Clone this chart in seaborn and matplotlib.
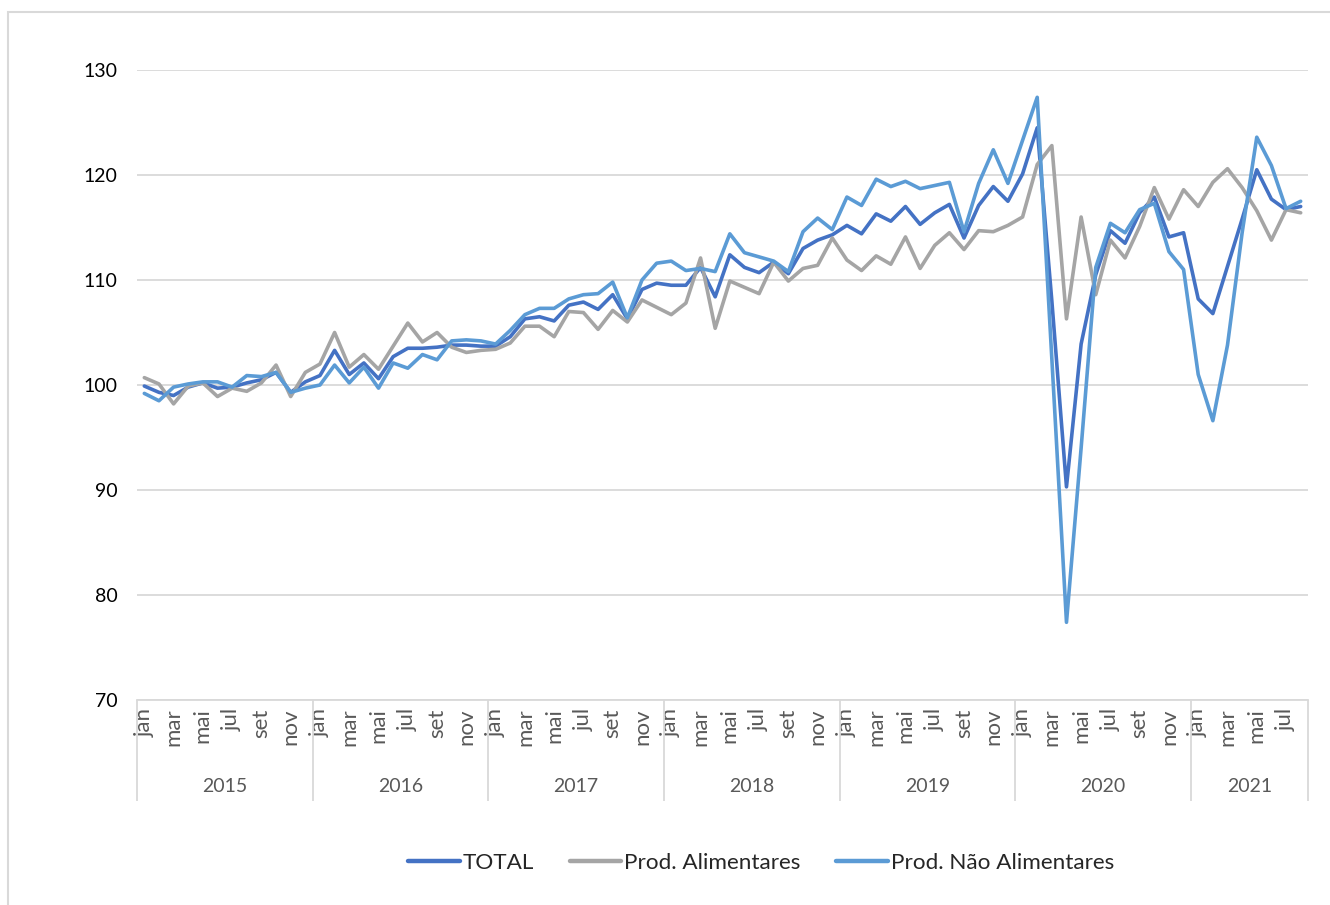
import numpy as np
import pandas as pd
import matplotlib
matplotlib.use("Agg")
import matplotlib.pyplot as plt
import matplotlib.transforms as mtransforms
from matplotlib.patches import Rectangle
import seaborn as sns

# ---------------- data ----------------
years = ["2015", "2016", "2017", "2018", "2019", "2020", "2021"]
month_labels = ["jan", "mar", "mai", "jul", "set", "nov"]
series_names = ["TOTAL", "Prod. Alimentares", "Prod. Não Alimentares"]

total = [
    99.9, 99.3, 99.0, 99.8, 100.2, 99.7, 99.8, 100.2, 100.5, 101.2, 99.3, 100.3,
    100.9, 103.3, 101.0, 102.1, 100.6, 102.7, 103.5, 103.5, 103.6, 103.8, 103.8, 103.7,
    103.7, 104.6, 106.3, 106.5, 106.1, 107.6, 107.9, 107.2, 108.6, 106.3, 109.1, 109.7,
    109.5, 109.5, 111.2, 108.4, 112.4, 111.2, 110.7, 111.7, 110.6, 113.0, 113.8, 114.3,
    115.2, 114.4, 116.3, 115.6, 117.0, 115.3, 116.4, 117.2, 114.0, 117.1, 118.9, 117.5,
    120.1, 124.5, 108.0, 90.3, 103.9, 110.5, 114.7, 113.5, 116.4, 117.9, 114.1, 114.5,
    108.2, 106.8, 111.3, 115.8, 120.5, 117.7, 116.7, 117.0,
]
alimentares = [
    100.7, 100.1, 98.2, 99.9, 100.2, 98.9, 99.7, 99.4, 100.2, 101.9, 98.9, 101.2,
    102.0, 105.0, 101.7, 102.9, 101.5, 103.7, 105.9, 104.1, 105.0, 103.6, 103.1, 103.3,
    103.4, 104.0, 105.6, 105.6, 104.6, 107.0, 106.9, 105.3, 107.1, 106.0, 108.1, 107.4,
    106.7, 107.8, 112.1, 105.4, 109.9, 109.3, 108.7, 111.7, 109.9, 111.1, 111.4, 114.0,
    111.9, 110.9, 112.3, 111.5, 114.1, 111.1, 113.3, 114.5, 112.9, 114.7, 114.6, 115.2,
    116.0, 121.0, 122.8, 106.3, 116.0, 108.6, 113.8, 112.1, 115.1, 118.8, 115.8, 118.6,
    117.0, 119.3, 120.6, 118.8, 116.6, 113.8, 116.7, 116.4,
]
nao_alimentares = [
    99.2, 98.5, 99.8, 100.1, 100.3, 100.3, 99.8, 100.9, 100.8, 101.2, 99.3, 99.7,
    100.0, 101.9, 100.2, 101.7, 99.7, 102.1, 101.6, 102.9, 102.4, 104.2, 104.3, 104.2,
    103.9, 105.2, 106.7, 107.3, 107.3, 108.2, 108.6, 108.7, 109.8, 106.4, 110.0, 111.6,
    111.8, 110.9, 111.1, 110.8, 114.4, 112.6, 112.2, 111.8, 110.8, 114.6, 115.9, 114.8,
    117.9, 117.1, 119.6, 118.9, 119.4, 118.7, 119.0, 119.3, 114.6, 119.2, 122.4, 119.2,
    123.3, 127.4, 102.5, 77.4, 94.0, 111.2, 115.4, 114.5, 116.7, 117.3, 112.7, 111.0,
    101.0, 96.6, 103.8, 114.5, 123.6, 120.9, 116.8, 117.5,
]
y_ticks = [70, 80, 90, 100, 110, 120, 130]

n = len(total)
df = pd.DataFrame({
    "idx": np.arange(n),
    series_names[0]: total,
    series_names[1]: alimentares,
    series_names[2]: nao_alimentares,
}).melt(id_vars="idx", var_name="serie", value_name="valor")

# ---------------- style ----------------
sns.set_theme(style="white")
plt.rcParams["font.family"] = ["Lato", "DejaVu Sans"]

colors = ["#4472C4", "#A5A5A5", "#5B9BD5"]
grid_c = "#D9D9D9"
label_c = "#595959"

W, H = 1330, 905
fig = plt.figure(figsize=(W / 100, H / 100), dpi=100)
ax = fig.add_axes([137 / W, 1 - 700 / H, (1308 - 137) / W, 630 / H])

sns.lineplot(data=df, x="idx", y="valor", hue="serie", hue_order=series_names,
             palette=colors, linewidth=2.6, ax=ax, legend=True)

handles, labels = ax.get_legend_handles_labels()
ax.get_legend().remove()
leg = fig.legend(handles, labels, loc="center", bbox_to_anchor=(761 / W, 1 - 863 / H),
                 ncol=3, frameon=False, fontsize=16.2, handlelength=2.3,
                 handletextpad=0.12, columnspacing=1.6)
for lh in leg.get_lines():
    lh.set_linewidth(3.2)

ax.set_xlim(-0.5, n - 0.5)
ax.set_ylim(70, 130)
ax.set_yticks(y_ticks)
ax.set_xlabel("")
ax.set_ylabel("")

ax.grid(axis="y", color=grid_c, linewidth=1.3)
ax.grid(axis="x", visible=False)
ax.set_axisbelow(True)
for s in ["top", "left", "right"]:
    ax.spines[s].set_visible(False)
ax.spines["bottom"].set_color(grid_c)
ax.spines["bottom"].set_linewidth(1.3)

ax.tick_params(axis="y", length=0, pad=14, labelsize=14, labelcolor="#000000")

tick_pos = list(range(0, n, 2))
tick_lab = [month_labels[(p % 12) // 2] for p in tick_pos]
ax.set_xticks(tick_pos)
ax.set_xticklabels(tick_lab, rotation=90)
ax.tick_params(axis="x", length=0, pad=6, labelsize=16, labelcolor=label_c)

# year separators and labels
trans = mtransforms.blended_transform_factory(ax.transData, ax.transAxes)
bounds = [-0.5 + 12 * k for k in range(len(years))] + [n - 0.5]
for b in bounds:
    ax.plot([b, b], [0, -0.16], transform=trans, color=grid_c, lw=1.3,
            clip_on=False, solid_capstyle="butt")
for k, yr in enumerate(years):
    x0 = bounds[k]
    x1 = bounds[k + 1]
    ax.text((x0 + x1) / 2, -0.138, yr, transform=trans, ha="center", va="center",
            fontsize=14, color=label_c)

# outer chart border
fig.add_artist(Rectangle((8 / W, -0.05), 1.2, 1 - 12 / H + 0.05,
                         transform=fig.transFigure, fill=False,
                         edgecolor=grid_c, lw=1.5))

fig.savefig("out.png", dpi=100, facecolor="white")
